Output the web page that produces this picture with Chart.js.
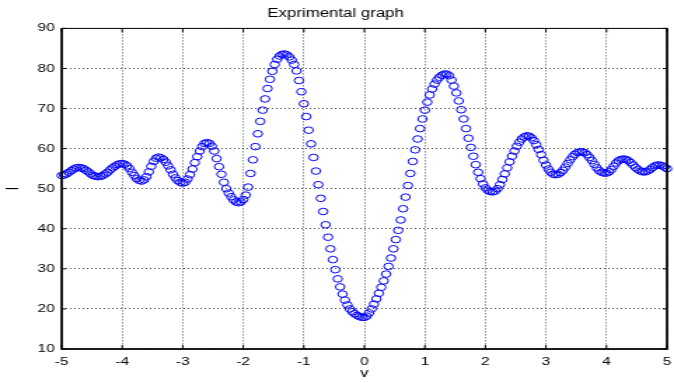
<!DOCTYPE html>
<html>
<head>
<meta charset="utf-8">
<script src="https://cdn.jsdelivr.net/npm/chart.js@4"></script>
<style>
  html, body { margin: 0; padding: 0; background: #fff; overflow: hidden; }
  #plot { width: 674px !important; height: 383px !important; }
</style>
</head>
<body>
<!-- the original figure is stretched sideways, so draw narrow and widen with css -->
<canvas id="plot" width="481" height="383" style="width:674px;height:383px"></canvas>
<script>
const titleText = 'Exprimental graph';
const xLabel = 'v';
const yLabel = 'I';

const vValues = [
  -5.00, -4.96, -4.92, -4.88, -4.84, -4.80, -4.76, -4.72, -4.68, -4.64, -4.60, -4.56, -4.52, -4.48, -4.44, -4.40, -4.36, -4.32, -4.28, -4.24, -4.20, -4.16, -4.12, -4.08, -4.04,
  -4.00, -3.96, -3.92, -3.88, -3.84, -3.80, -3.76, -3.72, -3.68, -3.64, -3.60, -3.56, -3.52, -3.48, -3.44, -3.40, -3.36, -3.32, -3.28, -3.24, -3.20, -3.16, -3.12, -3.08, -3.04,
  -3.00, -2.96, -2.92, -2.88, -2.84, -2.80, -2.76, -2.72, -2.68, -2.64, -2.60, -2.56, -2.52, -2.48, -2.44, -2.40, -2.36, -2.32, -2.28, -2.24, -2.20, -2.16, -2.12, -2.08, -2.04,
  -2.00, -1.96, -1.92, -1.88, -1.84, -1.80, -1.76, -1.72, -1.68, -1.64, -1.60, -1.56, -1.52, -1.48, -1.44, -1.40, -1.36, -1.32, -1.28, -1.24, -1.20, -1.16, -1.12, -1.08, -1.04,
  -1.00, -0.96, -0.92, -0.88, -0.84, -0.80, -0.76, -0.72, -0.68, -0.64, -0.60, -0.56, -0.52, -0.48, -0.44, -0.40, -0.36, -0.32, -0.28, -0.24, -0.20, -0.16, -0.12, -0.08, -0.04,
  0.00, 0.04, 0.08, 0.12, 0.16, 0.20, 0.24, 0.28, 0.32, 0.36, 0.40, 0.44, 0.48, 0.52, 0.56, 0.60, 0.64, 0.68, 0.72, 0.76, 0.80, 0.84, 0.88, 0.92, 0.96,
  1.00, 1.04, 1.08, 1.12, 1.16, 1.20, 1.24, 1.28, 1.32, 1.36, 1.40, 1.44, 1.48, 1.52, 1.56, 1.60, 1.64, 1.68, 1.72, 1.76, 1.80, 1.84, 1.88, 1.92, 1.96,
  2.00, 2.04, 2.08, 2.12, 2.16, 2.20, 2.24, 2.28, 2.32, 2.36, 2.40, 2.44, 2.48, 2.52, 2.56, 2.60, 2.64, 2.68, 2.72, 2.76, 2.80, 2.84, 2.88, 2.92, 2.96,
  3.00, 3.04, 3.08, 3.12, 3.16, 3.20, 3.24, 3.28, 3.32, 3.36, 3.40, 3.44, 3.48, 3.52, 3.56, 3.60, 3.64, 3.68, 3.72, 3.76, 3.80, 3.84, 3.88, 3.92, 3.96,
  4.00, 4.04, 4.08, 4.12, 4.16, 4.20, 4.24, 4.28, 4.32, 4.36, 4.40, 4.44, 4.48, 4.52, 4.56, 4.60, 4.64, 4.68, 4.72, 4.76, 4.80, 4.84, 4.88, 4.92, 4.96,
  5.00
];

const iValues = [
  53.3, 53.4, 53.7, 54.1, 54.5, 54.9, 55.2, 55.3, 55.2, 55.0, 54.6, 54.2, 53.7, 53.3, 53.1, 53.0, 53.1, 53.3, 53.7, 54.1, 54.7, 55.2, 55.6, 56.0, 56.2,
  56.3, 56.1, 55.7, 55.0, 54.1, 53.3, 52.5, 52.1, 51.9, 52.2, 53.0, 54.2, 55.6, 56.8, 57.6, 57.9, 57.7, 57.3, 56.6, 55.7, 54.7, 53.6, 52.7, 52.0, 51.6,
  51.4, 51.6, 52.4, 53.5, 54.9, 56.5, 58.0, 59.4, 60.5, 61.3, 61.5, 61.3, 60.6, 59.4, 57.5, 55.5, 53.6, 51.6, 50.0, 48.9, 48.0, 47.2, 46.7, 46.5, 46.7,
  47.3, 48.4, 50.4, 53.8, 57.2, 60.5, 63.7, 66.8, 69.6, 72.4, 75.0, 77.3, 79.3, 81.0, 82.3, 83.1, 83.5, 83.6, 83.4, 82.9, 82.1, 81.0, 79.4, 77.0, 74.2,
  71.2, 68.0, 64.6, 61.2, 57.8, 54.4, 51.0, 47.6, 44.3, 41.0, 37.9, 35.0, 32.3, 29.8, 27.5, 25.5, 23.7, 22.2, 21.0, 20.0, 19.3, 18.8, 18.4, 18.1, 17.9,
  17.9, 18.2, 19.0, 20.0, 21.2, 22.5, 23.9, 25.4, 27.0, 28.7, 30.6, 32.7, 35.0, 37.3, 39.6, 42.2, 45.0, 47.9, 50.8, 53.8, 56.8, 59.7, 62.4, 65.0, 67.4,
  69.6, 71.6, 73.4, 74.9, 76.1, 77.1, 77.8, 78.3, 78.6, 78.6, 78.2, 77.1, 75.6, 73.9, 71.9, 69.7, 67.4, 65.0, 62.6, 60.3, 58.1, 56.0, 54.1, 52.5, 51.2,
  50.2, 49.6, 49.3, 49.2, 49.4, 50.0, 51.0, 52.3, 53.7, 55.2, 56.7, 58.1, 59.4, 60.6, 61.6, 62.4, 62.9, 63.2, 63.1, 62.7, 62.0, 61.0, 59.8, 58.5, 57.1,
  55.9, 54.9, 54.1, 53.6, 53.5, 53.6, 54.0, 54.6, 55.4, 56.3, 57.2, 58.0, 58.6, 59.0, 59.2, 59.2, 59.0, 58.5, 57.8, 57.0, 56.1, 55.2, 54.5, 54.1, 53.9,
  53.9, 54.2, 54.8, 55.6, 56.4, 57.0, 57.3, 57.4, 57.3, 57.0, 56.5, 55.9, 55.3, 54.8, 54.4, 54.2, 54.2, 54.4, 54.8, 55.3, 55.7, 55.9, 55.9, 55.7, 55.4,
  55.0
];

const xTicks = [-5, -4, -3, -2, -1, 0, 1, 2, 3, 4, 5];
const yTicks = [10, 20, 30, 40, 50, 60, 70, 80, 90];

const points = vValues.map((v, i) => ({ x: v, y: iValues[i] }));
const fontFamily = '"Liberation Sans", Arial, Helvetica, sans-serif';

// black frame round the axes plus short inward ticks, matlab style
const boxPlugin = {
  id: 'box',
  afterDraw(chart) {
    const { ctx, chartArea: a, scales } = chart;
    ctx.save();
    ctx.strokeStyle = '#000';
    ctx.lineWidth = 1;
    ctx.strokeRect(a.left, a.top, a.right - a.left, a.bottom - a.top);
    ctx.beginPath();
    xTicks.forEach(t => {
      const px = scales.x.getPixelForValue(t);
      ctx.moveTo(px, a.bottom); ctx.lineTo(px, a.bottom - 4);
      ctx.moveTo(px, a.top); ctx.lineTo(px, a.top + 4);
    });
    yTicks.forEach(t => {
      const py = scales.y.getPixelForValue(t);
      ctx.moveTo(a.left, py); ctx.lineTo(a.left + 3, py);
      ctx.moveTo(a.right, py); ctx.lineTo(a.right - 3, py);
    });
    ctx.stroke();
    ctx.lineWidth = 1.5;
    ctx.beginPath();
    ctx.moveTo(a.left, a.top); ctx.lineTo(a.left, a.bottom); ctx.lineTo(a.right, a.bottom); ctx.lineTo(a.right, a.top);
    ctx.stroke();
    ctx.restore();
  }
};

new Chart(document.getElementById('plot'), {
  type: 'scatter',
  data: {
    datasets: [{
      data: points,
      showLine: false,
      pointStyle: 'circle',
      pointRadius: 3.3,
      pointBorderWidth: 1,
      pointBorderColor: '#0000ff',
      pointBackgroundColor: 'rgba(0,0,0,0)',
      clip: false
    }]
  },
  options: {
    responsive: false,
    devicePixelRatio: 1,
    animation: false,
    layout: { padding: { left: 0, right: 2, top: 0, bottom: 0 } },
    plugins: {
      legend: { display: false },
      tooltip: { enabled: false },
      title: {
        display: true,
        text: titleText,
        color: '#000',
        font: { family: fontFamily, size: 12, weight: 'normal' },
        padding: { top: 6, bottom: 8 }
      }
    },
    scales: {
      x: {
        type: 'linear',
        min: -5,
        max: 5,
        afterBuildTicks(scale) { scale.ticks = xTicks.map(v => ({ value: v })); },
        afterFit(scale) { scale.height = 34; scale.paddingLeft = 0; scale.paddingRight = 0; },
        ticks: { color: '#000', padding: 6, maxRotation: 0, font: { family: fontFamily, size: 11 } },
        grid: { color: 'rgba(0,0,0,0.7)', lineWidth: 1, drawTicks: false },
        border: { display: false, dash: [1, 2] },
        title: { display: true, text: xLabel, color: '#000', padding: { top: 0, bottom: 2 }, font: { family: fontFamily, size: 12 } }
      },
      y: {
        type: 'linear',
        min: 10,
        max: 90,
        afterBuildTicks(scale) { scale.ticks = yTicks.map(v => ({ value: v })); },
        afterFit(scale) { scale.width = 44; scale.paddingTop = 0; scale.paddingBottom = 0; },
        ticks: { color: '#000', padding: 5, font: { family: fontFamily, size: 11 } },
        grid: { color: 'rgba(0,0,0,0.7)', lineWidth: 1, drawTicks: false },
        border: { display: false, dash: [1, 2] },
        title: { display: true, text: yLabel, color: '#000', padding: { top: 2, bottom: 0 }, font: { family: fontFamily, size: 12 } }
      }
    }
  },
  plugins: [boxPlugin]
});
</script>
</body>
</html>
